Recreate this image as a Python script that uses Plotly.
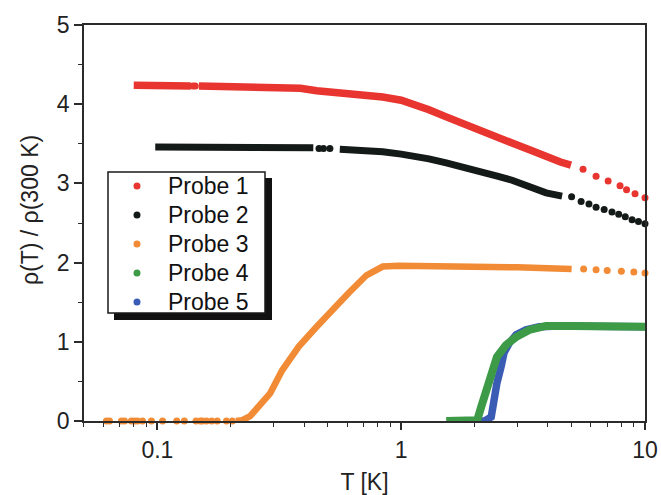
import plotly.graph_objects as go

# ---------------- data ----------------
# Probe 1 (red): dense band + sparse dots
p1_T_band = [0.080, 0.09, 0.10, 0.12, 0.137, None, 0.148, 0.2, 0.29, 0.386, 0.45, 0.56, 0.7, 0.84, 1.0, 1.11, 1.3, 1.53, 1.8, 2.09, 2.5, 2.85, 3.4, 3.93, 4.5, 4.97]
p1_v_band = [4.24, 4.24, 4.24, 4.24, 4.23, None, 4.23, 4.22, 4.22, 4.20, 4.17, 4.15, 4.12, 4.09, 4.05, 4.01, 3.93, 3.84, 3.76, 3.67, 3.58, 3.51, 3.42, 3.33, 3.27, 3.23]
p1_T_dots = [0.14, 0.143, 5.57, 6.3, 7.06, 7.9, 8.4, 9.1, 10.0]
p1_v_dots = [4.23, 4.23, 3.18, 3.09, 3.03, 2.97, 2.92, 2.87, 2.82]

# Probe 2 (black)
p2_T_band = [0.098, 0.12, 0.15, 0.2, 0.25, 0.328, 0.38, 0.436, None, 0.56, 0.7, 0.84, 1.0, 1.11, 1.3, 1.53, 1.8, 2.09, 2.5, 2.85, 3.4, 3.93, 4.57]
p2_v_band = [3.46, 3.46, 3.46, 3.46, 3.46, 3.46, 3.45, 3.45, None, 3.43, 3.42, 3.40, 3.37, 3.35, 3.31, 3.26, 3.21, 3.15, 3.09, 3.04, 2.96, 2.88, 2.84]
p2_T_dots = [0.46, 0.48, 0.51, 5.0, 5.47, 5.89, 6.3, 6.8, 7.32, 7.8, 8.3, 8.85, 9.4, 10.0]
p2_v_dots = [3.44, 3.44, 3.44, 2.83, 2.77, 2.74, 2.70, 2.67, 2.64, 2.61, 2.58, 2.54, 2.52, 2.49]

# Probe 3 (orange)
p3_T_dots = [0.0618, 0.0636, 0.0712, 0.0733, 0.0782, 0.0805, 0.0828, 0.0869, 0.0945, 0.105, 0.120, 0.129, 0.144, 0.150, 0.153, 0.159, 0.167, 0.176, 0.192, 0.203, 5.6, 6.3, 7.0, 8.0, 9.0, 10.0]
p3_v_dots = [0, 0, 0, 0, 0, 0, 0, 0, 0, 0, 0, 0, 0, 0, 0, 0, 0, 0, 0, 0, 1.92, 1.91, 1.90, 1.89, 1.88, 1.87]
p3_T_band = [0.21, 0.223, 0.24, 0.26, 0.29, 0.325, 0.38, 0.45, 0.52, 0.61, 0.72, 0.84, 0.98, 1.5, 2.0, 3.0, 4.0, 5.0]
p3_v_band = [0.0, 0.01, 0.06, 0.18, 0.35, 0.64, 0.94, 1.19, 1.40, 1.62, 1.84, 1.95, 1.96, 1.96, 1.95, 1.94, 1.93, 1.92]

# Probe 4 (green)
p4_T_band = [1.53, 1.7, 1.9, 2.05, 2.13, 2.23, 2.34, 2.47, 2.69, 2.96, 3.35, 3.93, 5.0, 6.0, 7.0, 8.0, 9.0, 10.0]
p4_v_band = [0.0, 0.0, 0.0, 0.01, 0.18, 0.39, 0.60, 0.81, 0.96, 1.06, 1.15, 1.20, 1.20, 1.20, 1.20, 1.19, 1.19, 1.19]

# Probe 5 (blue)
p5_T_band = [2.0, 2.2, 2.34, 2.40, 2.47, 2.57, 2.64, 2.77, 2.96, 3.25, 3.68, 4.5, 5.0, 6.0, 7.0, 8.0, 9.0, 10.0]
p5_v_band = [0.0, 0.0, 0.05, 0.27, 0.48, 0.69, 0.86, 0.98, 1.09, 1.15, 1.19, 1.20, 1.20, 1.19, 1.19, 1.19, 1.19, 1.19]

names = ["Probe 1", "Probe 2", "Probe 3", "Probe 4", "Probe 5"]
colors = ["#e8352f", "#141a18", "#f28b36", "#3d9b48", "#3a5cb4"]

x_tick_vals = [0.1, 1, 10]
x_tick_text = ["0.1", "1", "10"]
x_minor_vals = [0.05, 0.06, 0.07, 0.08, 0.09, 0.2, 0.3, 0.4, 0.5, 0.6, 0.7, 0.8, 0.9,
                2, 3, 4, 5, 6, 7, 8, 9]
y_tick_vals = [0, 1, 2, 3, 4, 5]
x_title = "T [K]"
y_title = "ρ(T) / ρ(300 K)"

FONT = "Liberation Sans, Arial, sans-serif"
W, H = 661, 495
ML, MR, MT, MB = 84, 16, 25, 74
PW, PH = W - ML - MR, H - MT - MB


def px(x):
    return (x - ML) / PW


def py(y):
    return (H - MB - y) / PH


fig = go.Figure()

bands = [
    (p5_T_band, p5_v_band, 4, 7.5),
    (p4_T_band, p4_v_band, 3, 8),
    (p3_T_band, p3_v_band, 2, 6.5),
    (p2_T_band, p2_v_band, 1, 7),
    (p1_T_band, p1_v_band, 0, 7.5),
]
for T, v, i, w in bands:
    fig.add_trace(go.Scatter(x=T, y=v, mode="lines", name=names[i],
                             line=dict(color=colors[i], width=w),
                             connectgaps=False, showlegend=False, hoverinfo="skip"))

dots = [
    (p1_T_dots, p1_v_dots, 0),
    (p2_T_dots, p2_v_dots, 1),
    (p3_T_dots, p3_v_dots, 2),
]
for T, v, i in dots:
    fig.add_trace(go.Scatter(x=T, y=v, mode="markers", name=names[i],
                             marker=dict(color=colors[i], size=7, line=dict(width=0)),
                             showlegend=False, cliponaxis=False))

axis_common = dict(
    showline=True, linecolor="#2b2b2b", linewidth=1.8, mirror=True,
    ticks="outside", tickcolor="#2b2b2b", tickwidth=1.5,
    showgrid=False, zeroline=False, automargin=False,
    tickfont=dict(family=FONT, size=23, color="#222"),
)

fig.update_xaxes(
    type="log", range=[-1.301, 1.0],
    tickvals=x_tick_vals, ticktext=x_tick_text, ticklen=7,
    minor=dict(tickvals=x_minor_vals, ticks="outside", ticklen=4, tickcolor="#2b2b2b", tickwidth=1.2),
    title=dict(text=x_title, font=dict(family=FONT, size=23, color="#222"), standoff=14),
    **axis_common,
)
fig.update_yaxes(
    range=[0, 5], tickvals=y_tick_vals, ticklen=8,
    minor=dict(dtick=0.5, ticks="outside", ticklen=4, tickcolor="#2b2b2b", tickwidth=1.2),
    **axis_common,
)

fig.update_layout(
    width=W, height=H,
    margin=dict(l=ML, r=MR, t=MT, b=MB),
    paper_bgcolor="white", plot_bgcolor="white",
    showlegend=False,
)

# y-axis title (placed slightly above the plot centre, as in the reference)
fig.add_annotation(xref="paper", yref="paper", x=px(30), y=py(210),
                   xanchor="center", yanchor="middle", textangle=-90, showarrow=False,
                   text=y_title, font=dict(family=FONT, size=23, color="#222"))

# ---- hand-drawn legend box (with drop shadow) ----
fig.add_shape(type="rect", xref="paper", yref="paper",
              x0=px(114), x1=px(272), y0=py(320), y1=py(178),
              fillcolor="#111", line=dict(width=0), layer="above")
fig.add_shape(type="rect", xref="paper", yref="paper",
              x0=px(108), x1=px(265), y0=py(313), y1=py(172),
              fillcolor="white", line=dict(color="#1a1a1a", width=1.5), layer="above")
for i, name in enumerate(names):
    yc = 186 + 29 * i
    fig.add_shape(type="circle", xref="paper", yref="paper",
                  xsizemode="pixel", ysizemode="pixel",
                  xanchor=px(137), yanchor=py(yc),
                  x0=-3.5, x1=3.5, y0=-3.5, y1=3.5,
                  fillcolor=colors[i], line=dict(width=0), layer="above")
    fig.add_annotation(xref="paper", yref="paper", x=px(166), y=py(yc),
                       xanchor="left", yanchor="middle", showarrow=False,
                       text=name, font=dict(family=FONT, size=23, color="#111"))

fig.write_html("out.html")
